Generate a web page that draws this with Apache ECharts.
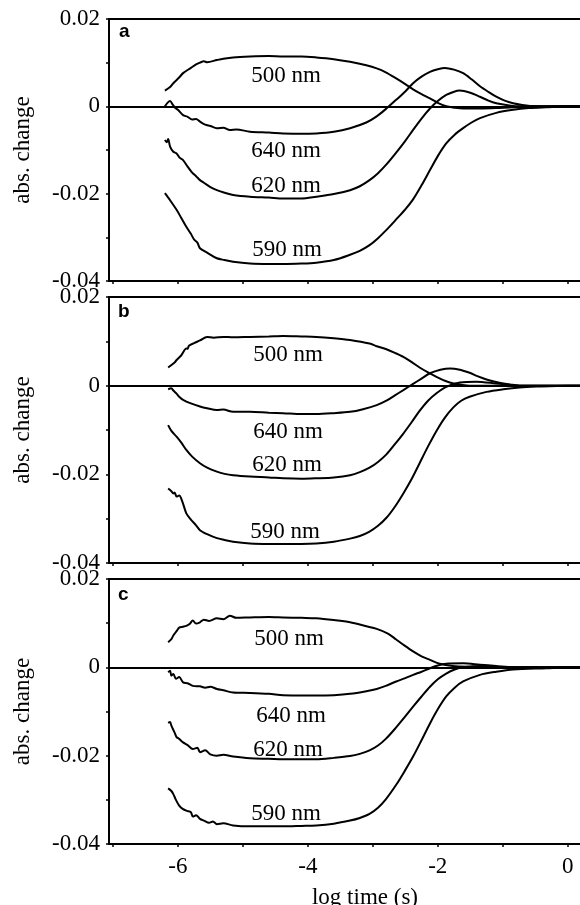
<!DOCTYPE html>
<html>
<head>
<meta charset="utf-8">
<script src="https://cdn.jsdelivr.net/npm/echarts@6/dist/echarts.min.js"></script>
<style>
html,body{margin:0;padding:0;background:#fff;}
#chart{width:580px;height:905px;}
</style>
</head>
<body>
<div id="chart"></div>
<script>
// ---- data (x = log time (s), y = absorbance change) ----
var panelNames = ['a', 'b', 'c'];
var wavelengths = ['500 nm', '640 nm', '620 nm', '590 nm'];
var xTickValues = [-7, -6, -5, -4, -3, -2, -1, 0];
var xLabelValues = [-6, -4, -2, 0];
var yTickValues = [-0.04, -0.02, 0, 0.02];
var yTickLabels = ['-0.04', '-0.02', '0', '0.02'];

var a500 = [[-6.2,0.0036],[-6.12,0.0044],[-6.07,0.0053],[-5.98,0.0066],[-5.92,0.0076],[-5.8,0.0088],[-5.72,0.0096],[-5.66,0.0100],[-5.6,0.0103],[-5.55,0.0101],[-5.4,0.0106],[-5.3,0.0109],[-5.15,0.0112],[-4.89,0.0114],[-4.6,0.0115],[-4.38,0.0114],[-4.1,0.0114],[-3.87,0.0112],[-3.6,0.0108],[-3.35,0.0102],[-3.1,0.0094],[-2.94,0.0087],[-2.8,0.0078],[-2.64,0.0064],[-2.5,0.0051],[-2.38,0.0039],[-2.25,0.0028],[-2.12,0.0018],[-2.0,0.0008],[-1.87,0.0],[-1.75,-0.0003],[-1.61,-0.0005],[-1.35,-0.0005],[-1.1,-0.0004],[-0.84,-0.0002],[-0.5,-0.0001],[0,0],[0.3,0]];
var a640 = [[-6.2,0.0],[-6.16,0.0008],[-6.12,0.0012],[-6.08,0.0004],[-6.05,-0.0002],[-6.0,-0.0008],[-5.92,-0.002],[-5.85,-0.0024],[-5.78,-0.003],[-5.72,-0.0029],[-5.66,-0.0035],[-5.58,-0.0042],[-5.5,-0.0045],[-5.4,-0.005],[-5.3,-0.0049],[-5.2,-0.0054],[-5.1,-0.0053],[-4.89,-0.0058],[-4.6,-0.006],[-4.38,-0.0062],[-4.1,-0.0063],[-3.87,-0.0062],[-3.6,-0.0058],[-3.35,-0.005],[-3.1,-0.0037],[-2.94,-0.0023],[-2.79,-0.0005],[-2.64,0.0015],[-2.5,0.0034],[-2.38,0.0053],[-2.25,0.0068],[-2.12,0.0079],[-2.0,0.0085],[-1.89,0.0088],[-1.75,0.0084],[-1.61,0.0076],[-1.48,0.0062],[-1.35,0.0046],[-1.22,0.0033],[-1.1,0.0022],[-0.97,0.0013],[-0.84,0.0007],[-0.7,0.0003],[-0.58,0.0001],[-0.3,0],[0.3,0]];
var a620 = [[-6.2,-0.0077],[-6.17,-0.0082],[-6.15,-0.0075],[-6.12,-0.0092],[-6.07,-0.0104],[-6.02,-0.0108],[-5.97,-0.0118],[-5.92,-0.0123],[-5.85,-0.0138],[-5.78,-0.0152],[-5.72,-0.016],[-5.66,-0.0169],[-5.6,-0.0175],[-5.5,-0.0185],[-5.4,-0.0192],[-5.28,-0.0198],[-5.15,-0.0203],[-4.89,-0.0207],[-4.6,-0.0209],[-4.38,-0.0211],[-4.1,-0.0211],[-3.87,-0.0207],[-3.6,-0.0201],[-3.35,-0.0192],[-3.2,-0.0183],[-3.05,-0.0169],[-2.92,-0.0153],[-2.79,-0.0133],[-2.64,-0.0106],[-2.5,-0.0079],[-2.38,-0.0054],[-2.25,-0.0028],[-2.12,-0.0005],[-2.0,0.0012],[-1.87,0.0026],[-1.76,0.0033],[-1.66,0.0036],[-1.5,0.0031],[-1.35,0.0022],[-1.22,0.0013],[-1.1,0.0007],[-0.9,0.0002],[-0.74,0.0],[0.3,0]];
var a590 = [[-6.2,-0.0199],[-6.12,-0.0215],[-6.02,-0.0237],[-5.95,-0.0255],[-5.87,-0.0276],[-5.8,-0.0292],[-5.75,-0.0305],[-5.7,-0.0312],[-5.66,-0.0325],[-5.55,-0.0335],[-5.4,-0.0348],[-5.28,-0.0352],[-5.15,-0.0356],[-4.89,-0.036],[-4.6,-0.0361],[-4.38,-0.0361],[-4.1,-0.036],[-3.87,-0.0358],[-3.6,-0.0352],[-3.35,-0.034],[-3.2,-0.0331],[-3.05,-0.0318],[-2.92,-0.0302],[-2.79,-0.0283],[-2.64,-0.0259],[-2.5,-0.0236],[-2.38,-0.0213],[-2.25,-0.0181],[-2.12,-0.0146],[-2.0,-0.0114],[-1.87,-0.0085],[-1.74,-0.0065],[-1.61,-0.005],[-1.48,-0.0037],[-1.35,-0.0027],[-1.1,-0.0015],[-0.84,-0.0008],[-0.6,-0.0004],[-0.33,-0.0002],[0,0],[0.3,0]];

var b500 = [[-6.15,0.0041],[-6.05,0.0052],[-6.02,0.0058],[-5.95,0.0068],[-5.87,0.0084],[-5.85,0.0083],[-5.83,0.009],[-5.75,0.0096],[-5.66,0.0102],[-5.55,0.011],[-5.45,0.0108],[-5.3,0.011],[-5.15,0.0109],[-4.89,0.011],[-4.6,0.0111],[-4.38,0.0112],[-4.1,0.0111],[-3.87,0.011],[-3.6,0.0107],[-3.35,0.0103],[-3.05,0.0095],[-2.94,0.0089],[-2.79,0.0082],[-2.66,0.0074],[-2.53,0.0065],[-2.4,0.0053],[-2.28,0.0041],[-2.15,0.003],[-2.02,0.002],[-1.89,0.0011],[-1.76,0.0005],[-1.64,0.0002],[-1.51,0.0],[0.3,0]];
var b640 = [[-6.15,-0.0008],[-6.1,-0.0006],[-6.07,-0.0011],[-6.02,-0.0018],[-5.98,-0.0025],[-5.92,-0.0032],[-5.8,-0.004],[-5.66,-0.0047],[-5.55,-0.0051],[-5.4,-0.0055],[-5.3,-0.0054],[-5.15,-0.0059],[-4.89,-0.0059],[-4.6,-0.0061],[-4.38,-0.0062],[-4.1,-0.0064],[-3.87,-0.0064],[-3.6,-0.0062],[-3.35,-0.0059],[-3.15,-0.0053],[-2.94,-0.0044],[-2.79,-0.0034],[-2.66,-0.0022],[-2.53,-0.001],[-2.38,0.0004],[-2.25,0.0016],[-2.12,0.0028],[-1.96,0.0036],[-1.81,0.0039],[-1.66,0.0036],[-1.51,0.0029],[-1.38,0.0021],[-1.25,0.0014],[-1.12,0.0009],[-0.99,0.0005],[-0.85,0.0002],[-0.74,0.0],[0.3,0]];
var b620 = [[-6.15,-0.0089],[-6.1,-0.0102],[-6.02,-0.0115],[-5.95,-0.0128],[-5.87,-0.0145],[-5.78,-0.016],[-5.66,-0.0175],[-5.55,-0.0185],[-5.4,-0.0194],[-5.28,-0.0199],[-5.15,-0.0202],[-4.89,-0.0205],[-4.6,-0.0207],[-4.38,-0.0209],[-4.1,-0.021],[-3.87,-0.0209],[-3.6,-0.0207],[-3.35,-0.0202],[-3.2,-0.0195],[-3.05,-0.0185],[-2.92,-0.0172],[-2.79,-0.0155],[-2.66,-0.0132],[-2.53,-0.0108],[-2.4,-0.0082],[-2.28,-0.0057],[-2.15,-0.0034],[-2.02,-0.0017],[-1.86,-0.0002],[-1.66,0.0007],[-1.41,0.0009],[-1.1,0.0005],[-0.74,0.0],[0.3,0]];
var b590 = [[-6.15,-0.0232],[-6.1,-0.0238],[-6.07,-0.0243],[-6.05,-0.0241],[-6.02,-0.025],[-5.98,-0.0248],[-5.93,-0.0262],[-5.87,-0.0288],[-5.8,-0.0302],[-5.72,-0.0315],[-5.66,-0.0326],[-5.55,-0.0335],[-5.4,-0.0344],[-5.28,-0.0348],[-5.15,-0.0352],[-4.89,-0.0356],[-4.6,-0.0357],[-4.38,-0.0357],[-4.1,-0.0357],[-3.87,-0.0356],[-3.6,-0.0352],[-3.35,-0.0345],[-3.2,-0.0339],[-3.05,-0.0329],[-2.92,-0.0316],[-2.79,-0.0298],[-2.66,-0.0273],[-2.53,-0.0243],[-2.4,-0.021],[-2.28,-0.0175],[-2.15,-0.0137],[-2.02,-0.0102],[-1.89,-0.0072],[-1.76,-0.0049],[-1.64,-0.0034],[-1.51,-0.0025],[-1.25,-0.0014],[-0.99,-0.0008],[-0.74,-0.0004],[-0.48,-0.0002],[0,0],[0.3,0]];

var c500 = [[-6.15,0.0057],[-6.1,0.0064],[-6.07,0.0072],[-6.02,0.0082],[-5.98,0.009],[-5.92,0.0092],[-5.87,0.0094],[-5.82,0.0098],[-5.77,0.0106],[-5.72,0.0099],[-5.66,0.0102],[-5.6,0.0108],[-5.52,0.0105],[-5.4,0.0111],[-5.3,0.0109],[-5.2,0.0117],[-5.1,0.0112],[-4.89,0.0113],[-4.6,0.0114],[-4.38,0.0113],[-4.1,0.0112],[-3.87,0.0111],[-3.6,0.0107],[-3.35,0.0102],[-3.1,0.0093],[-2.94,0.0087],[-2.76,0.0076],[-2.64,0.0063],[-2.51,0.0049],[-2.38,0.0036],[-2.25,0.0025],[-2.12,0.0017],[-1.97,0.0008],[-1.77,0.0003],[-1.5,0.0001],[-1.2,0],[0.3,0]];
var c640 = [[-6.15,-0.0011],[-6.12,-0.0008],[-6.1,-0.0019],[-6.07,-0.0015],[-6.03,-0.0026],[-5.98,-0.0022],[-5.92,-0.0034],[-5.85,-0.0036],[-5.77,-0.0042],[-5.66,-0.0043],[-5.58,-0.0046],[-5.5,-0.0044],[-5.4,-0.0049],[-5.3,-0.0052],[-5.15,-0.0057],[-4.89,-0.0058],[-4.6,-0.006],[-4.38,-0.0063],[-4.1,-0.0064],[-3.87,-0.0064],[-3.6,-0.0063],[-3.35,-0.006],[-3.1,-0.0054],[-2.94,-0.0049],[-2.8,-0.0042],[-2.64,-0.0032],[-2.51,-0.0025],[-2.38,-0.0017],[-2.25,-0.001],[-2.12,-0.0002],[-2.0,0.0004],[-1.87,0.0008],[-1.61,0.0009],[-1.35,0.0006],[-1.1,0.0003],[-0.84,0.0],[0.3,0]];
var c620 = [[-6.15,-0.0126],[-6.12,-0.0124],[-6.1,-0.0132],[-6.05,-0.0148],[-6.02,-0.0158],[-5.98,-0.0162],[-5.92,-0.017],[-5.85,-0.0176],[-5.77,-0.0185],[-5.7,-0.0182],[-5.66,-0.0192],[-5.58,-0.0188],[-5.5,-0.0197],[-5.4,-0.02],[-5.3,-0.0198],[-5.15,-0.0202],[-4.89,-0.0206],[-4.6,-0.0207],[-4.38,-0.0208],[-4.1,-0.0208],[-3.87,-0.0208],[-3.6,-0.0205],[-3.35,-0.0201],[-3.2,-0.0196],[-3.05,-0.0188],[-2.92,-0.0177],[-2.8,-0.0162],[-2.64,-0.0136],[-2.51,-0.0113],[-2.38,-0.0089],[-2.25,-0.0066],[-2.12,-0.0044],[-2.0,-0.0027],[-1.87,-0.0014],[-1.74,-0.0005],[-1.61,0.0],[-1.35,0.0003],[-1.1,0.0001],[-0.8,0],[0.3,0]];
var c590 = [[-6.15,-0.0274],[-6.1,-0.028],[-6.07,-0.0287],[-6.03,-0.03],[-5.98,-0.0313],[-5.92,-0.0321],[-5.86,-0.0325],[-5.8,-0.0328],[-5.77,-0.0338],[-5.72,-0.0335],[-5.66,-0.0343],[-5.6,-0.0347],[-5.52,-0.0352],[-5.46,-0.0349],[-5.4,-0.0355],[-5.3,-0.0353],[-5.15,-0.0358],[-4.89,-0.036],[-4.6,-0.036],[-4.38,-0.036],[-4.1,-0.0359],[-3.87,-0.0358],[-3.6,-0.0354],[-3.35,-0.0347],[-3.2,-0.0341],[-3.05,-0.0332],[-2.92,-0.0318],[-2.8,-0.0299],[-2.64,-0.0266],[-2.51,-0.0235],[-2.38,-0.0202],[-2.25,-0.0165],[-2.12,-0.0127],[-2.0,-0.0095],[-1.87,-0.0066],[-1.74,-0.0046],[-1.61,-0.0032],[-1.35,-0.0017],[-1.1,-0.001],[-0.84,-0.0005],[-0.33,-0.0002],[0,0],[0.3,0]];

var panelSeries = [[a500, a640, a620, a590], [b500, b640, b620, b590], [c500, c640, c620, c590]];

// ---- layout ----
var gridTops = [19, 297, 579];
var gridHeights = [262, 266, 265];
var serif = 'Liberation Serif';
var chart = echarts.init(document.getElementById('chart'), null, {renderer: 'canvas'});

var grids = [], xAxes = [], yAxes = [], series = [];
for (var p = 0; p < 3; p++) {
  grids.push({left: 109, top: gridTops[p], height: gridHeights[p], width: 512,
    containLabel: false, outerBoundsMode: 'none',
    show: true, borderColor: '#000', borderWidth: 2, backgroundColor: 'transparent'});
  xAxes.push({
    type: 'value', gridIndex: p, min: -7.06, max: 0.82,
    axisLine: {show: true, onZero: false, lineStyle: {color: '#000', width: 2}},
    axisTick: {show: true, customValues: xTickValues, length: 3, inside: false, lineStyle: {color: '#000', width: 1.5}},
    axisLabel: {show: p === 2, customValues: xLabelValues, margin: 11, color: '#000', fontFamily: serif, fontSize: 23,
      formatter: function (v) { return String(Math.round(v)); }},
    splitLine: {show: false},
    name: p === 2 ? 'log time (s)' : '', nameLocation: 'middle', nameGap: 42,
    nameTextStyle: {color: '#000', fontFamily: serif, fontSize: 23}
  });
  yAxes.push({
    type: 'value', gridIndex: p, min: -0.04, max: 0.02, interval: 0.01,
    axisLine: {show: true, onZero: false, lineStyle: {color: '#000', width: 2}},
    axisTick: {show: true, length: 3, inside: false, lineStyle: {color: '#000', width: 1.5}},
    axisLabel: {show: true, margin: 9, color: '#000', fontFamily: serif, fontSize: 23,
      formatter: function (v) {
        for (var i = 0; i < yTickValues.length; i++) {
          if (Math.abs(v - yTickValues[i]) < 1e-9) return yTickLabels[i];
        }
        return '';
      }},
    splitLine: {show: false},
    name: 'abs. change', nameLocation: 'middle', nameGap: 75,
    nameTextStyle: {color: '#000', fontFamily: serif, fontSize: 23}
  });
  for (var s = 0; s < 4; s++) {
    var ser = {
      type: 'line', xAxisIndex: p, yAxisIndex: p, data: panelSeries[p][s],
      showSymbol: false, symbol: 'none', smooth: 0.3, silent: true,
      lineStyle: {color: '#000', width: 2}, z: 3
    };
    if (s === 0) {
      ser.markLine = {silent: true, symbol: ['none', 'none'], label: {show: false},
        lineStyle: {color: '#000', width: 2, type: 'solid'}, data: [{yAxis: 0}], animation: false};
    }
    series.push(ser);
  }
}

// curve label positions (px) and panel letters
var curveLabelPos = [
  [[286, 76], [286, 151], [286, 186], [287, 250]],
  [[288, 355], [288, 432], [287, 465], [285, 532]],
  [[289, 639], [291, 716], [288, 750], [286, 814]]
];
var letterPos = [[119, 22], [118, 302], [118, 585]];
var graphics = [];
for (var p2 = 0; p2 < 3; p2++) {
  graphics.push({type: 'text', left: letterPos[p2][0], top: letterPos[p2][1], z: 10,
    style: {text: panelNames[p2], font: 'bold 19px "Liberation Sans"', fill: '#000'}});
  for (var k = 0; k < 4; k++) {
    graphics.push({type: 'text', x: curveLabelPos[p2][k][0], y: curveLabelPos[p2][k][1], z: 10,
      style: {text: wavelengths[k], font: '23px "Liberation Serif"', fill: '#000', align: 'center', verticalAlign: 'middle'}});
  }
}

chart.setOption({
  animation: false,
  backgroundColor: '#fff',
  grid: grids, xAxis: xAxes, yAxis: yAxes, series: series,
  graphic: graphics
});
</script>
</body>
</html>
